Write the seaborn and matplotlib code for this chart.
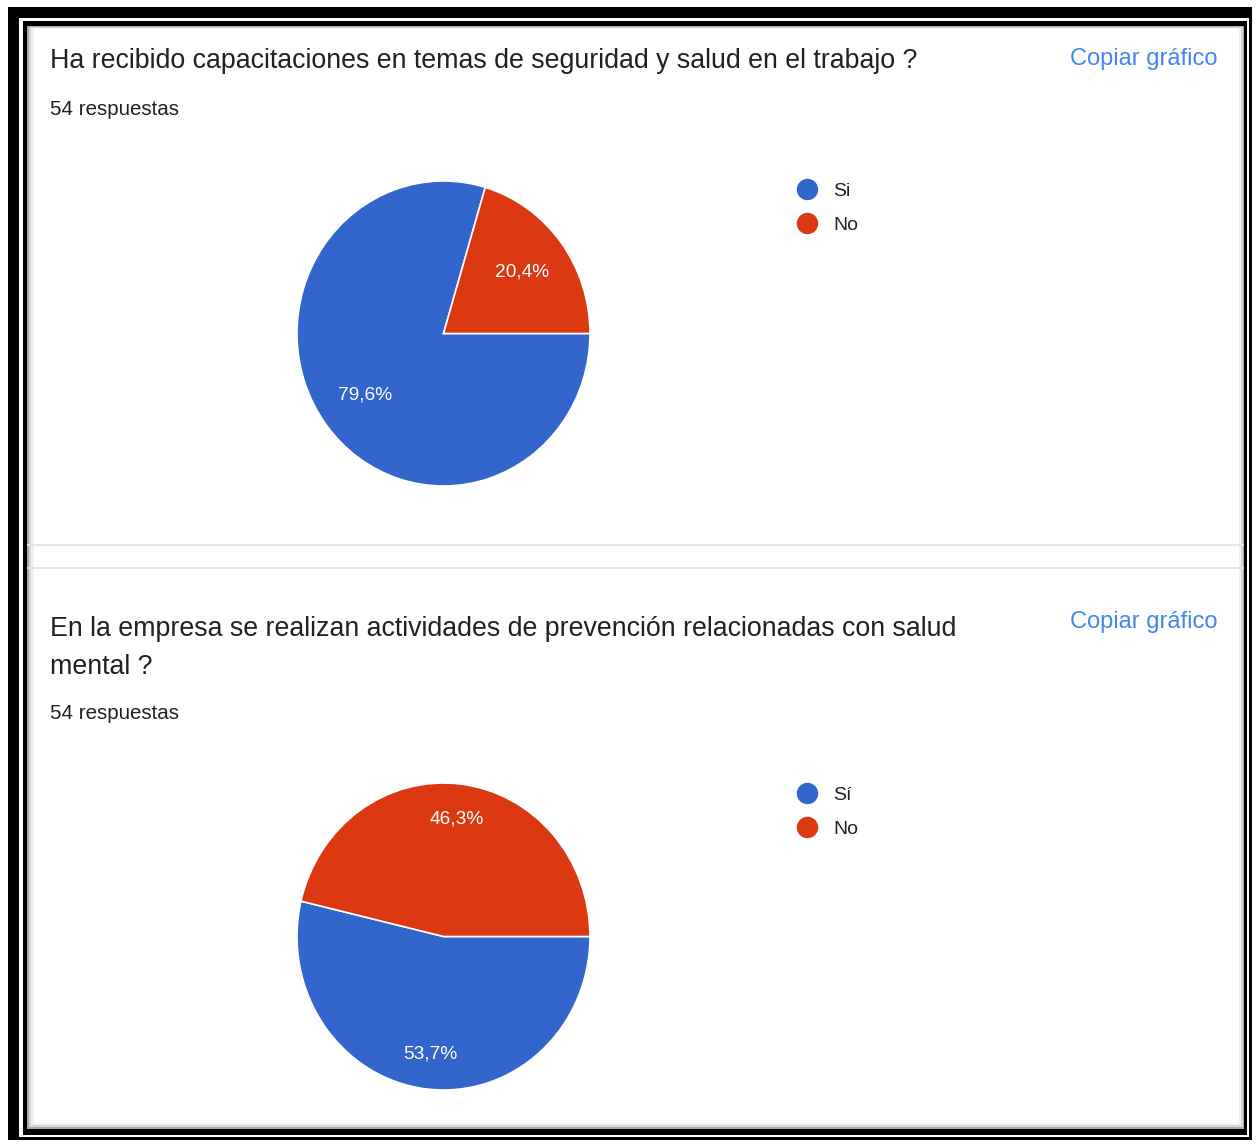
import matplotlib
matplotlib.use('Agg')
import matplotlib.pyplot as plt
from matplotlib.patches import Rectangle
from matplotlib.lines import Line2D
import seaborn as sns

# data
labels_1 = ['Si', 'No']
values_1 = [79.6, 20.4]
labels_2 = ['Sí', 'No']
values_2 = [53.7, 46.3]
title_1 = 'Ha recibido capacitaciones en temas de seguridad y salud en el trabajo ?'
title_2 = 'En la empresa se realizan actividades de prevención relacionadas con salud\nmental ?'
n_responses = [54, 54]

colors = ['#3366cc', '#dc3912']

sns.set_theme(style='white')
plt.rcParams['font.family'] = ['Liberation Sans', 'DejaVu Sans']

W, H = 1257, 1144
fig = plt.figure(figsize=(W / 100, H / 100), dpi=100)
fig.patch.set_facecolor('white')


def fx(x):
    return x / W


def fy(y):
    return 1 - y / H


def prect(x0, y0, x1, y1, color, z=0):
    fig.patches.append(Rectangle((fx(x0), fy(y1)), fx(x1) - fx(x0), fy(y0) - fy(y1),
                                 transform=fig.transFigure, facecolor=color,
                                 edgecolor='none', zorder=z))


# frame round the screenshot
prect(8, 7, 1252, 1140, 'black', 0)
prect(19, 18, 1249, 1137, 'white', 1)
prect(23, 21, 1247, 1135, 'black', 2)
prect(27, 26, 1244, 1129, '#a8a8a8', 3)
prect(29, 27, 1243, 1127, '#d6d6d6', 4)
prect(31, 28, 1241, 1125, '#f0f0f0', 5)
prect(34, 29, 1239, 1123, 'white', 6)
# card separator lines
prect(27, 544, 1244, 546, '#e6e6e6', 7)
prect(27, 567, 1244, 569, '#e6e6e6', 7)


def pct_fmt(p):
    return '{:.1f}%'.format(p).replace('.', ',')


def draw_pie(values, labels, box, pctdist):
    x0, y0, x1, y1 = box
    ax = fig.add_axes([fx(x0), fy(y1), fx(x1) - fx(x0), fy(y0) - fy(y1)])
    ax.set_zorder(20)
    ax.pie(values, colors=colors, startangle=0, counterclock=False,
           autopct=pct_fmt, pctdistance=pctdist,
           wedgeprops=dict(edgecolor='white', linewidth=1.2),
           textprops=dict(color='white', fontsize=13.8))
    ax.set_aspect('auto')
    ax.set_xlim(-1, 1)
    ax.set_ylim(-1, 1)
    ax.axis('off')
    return ax


def draw_legend(labels, cx, cy):
    handles = [Line2D([], [], linestyle='none', marker='o', markersize=14.4,
                      markerfacecolor=c, markeredgecolor=c) for c in colors]
    leg = fig.legend(handles, labels, loc='center left', bbox_to_anchor=(fx(cx), fy(cy)),
                     frameon=False, fontsize=14, handlelength=1.05, handletextpad=0.81,
                     labelspacing=0.85, borderpad=0, borderaxespad=0,
                     labelcolor='#202124')
    leg.set_zorder(20)


text_color = '#202124'
link_color = '#4285f4'

# first card
fig.text(fx(50), fy(68), title_1, fontsize=19.3, color=text_color, va='baseline', zorder=10)
fig.text(fx(50), fy(115), '{} respuestas'.format(n_responses[0]), fontsize=14.8,
         color=text_color, va='baseline', zorder=10)
fig.text(fx(1070), fy(65), 'Copiar gráfico', fontsize=17, color=link_color,
         va='baseline', zorder=10)
draw_pie(values_1, labels_1, (297, 181, 590, 486), 0.67)
draw_legend(labels_1, 797, 208)

# second card
fig.text(fx(50), fy(674), title_2, fontsize=19.3, color=text_color, va='baseline',
         linespacing=1.62, zorder=10)
fig.text(fx(50), fy(719), '{} respuestas'.format(n_responses[1]), fontsize=14.8,
         color=text_color, va='baseline', zorder=10)
fig.text(fx(1070), fy(628), 'Copiar gráfico', fontsize=17, color=link_color,
         va='baseline', zorder=10)
draw_pie(values_2, labels_2, (297, 783, 590, 1090), 0.77)
draw_legend(labels_2, 797, 812)

fig.savefig('out.png', dpi=100)
